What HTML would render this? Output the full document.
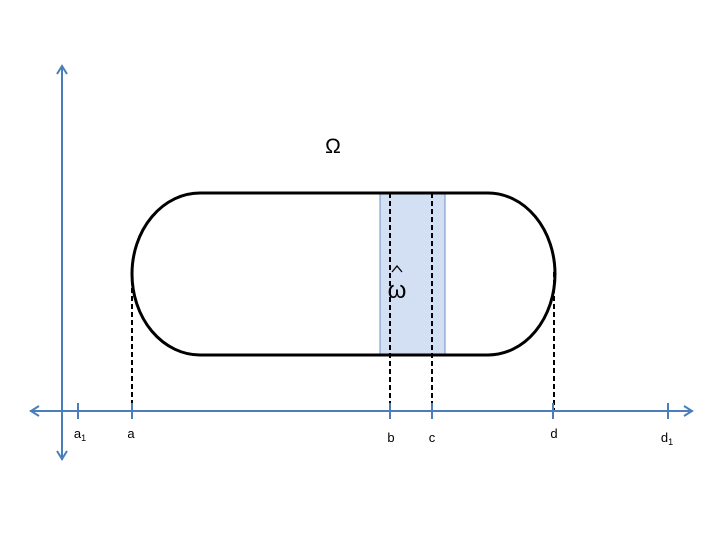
<!DOCTYPE html>
<html><head><style>body{margin:0;background:#fff}svg{display:block}</style></head><body>
<svg width="720" height="540" xmlns="http://www.w3.org/2000/svg" font-family="Liberation Sans, sans-serif">
<defs><marker id="ar" markerWidth="12" markerHeight="12" refX="9" refY="6" orient="auto" markerUnits="userSpaceOnUse"><path d="M1,1 L9,6 L1,11" fill="none" stroke="#4a7ebb" stroke-width="2"/></marker></defs>
<rect x="380" y="193" width="65" height="162" fill="#d3e0f3" stroke="#6e8fc0" stroke-width="1"/>
<path d="M200,193 H488 A67,81 0 0 1 488,355 H200 A68,81 0 0 1 200,193 Z" fill="none" stroke="#000" stroke-width="3"/>
<g stroke="#000" stroke-width="2" stroke-dasharray="5,3">
<line x1="390" y1="193" x2="390" y2="410"/><line x1="432" y1="193" x2="432" y2="410"/>
<line x1="132" y1="272" x2="132" y2="410"/><line x1="554" y1="272" x2="554" y2="410"/>
</g>
<g stroke="#4a7ebb" stroke-width="2">
<line x1="30" y1="411" x2="692" y2="411" marker-end="url(#ar)"/>
<line x1="692" y1="411" x2="31" y2="411" marker-end="url(#ar)"/>
<line x1="62" y1="460" x2="62" y2="66" marker-end="url(#ar)"/>
<line x1="62" y1="66" x2="62" y2="459" marker-end="url(#ar)"/>
<line x1="78" y1="403" x2="78" y2="419"/><line x1="132" y1="403" x2="132" y2="419"/>
<line x1="390" y1="403" x2="390" y2="419"/><line x1="432" y1="403" x2="432" y2="419"/>
<line x1="553" y1="403" x2="553" y2="419"/><line x1="668" y1="403" x2="668" y2="419"/>
</g>
<g font-size="13" fill="#000" text-anchor="middle">
<text x="80" y="438">a<tspan font-size="9" dy="3">1</tspan></text>
<text x="131" y="438">a</text><text x="391" y="442">b</text><text x="432" y="442">c</text><text x="554" y="438">d</text>
<text x="667" y="442">d<tspan font-size="9" dy="3">1</tspan></text>
</g>
<text x="333" y="153" font-size="21" text-anchor="middle">Ω</text>
<text x="397" y="298" font-size="24" text-anchor="middle">ω</text>
<path d="M392,272 L397,266 L402,272" fill="none" stroke="#000" stroke-width="1.3"/>
</svg>
</body></html>
